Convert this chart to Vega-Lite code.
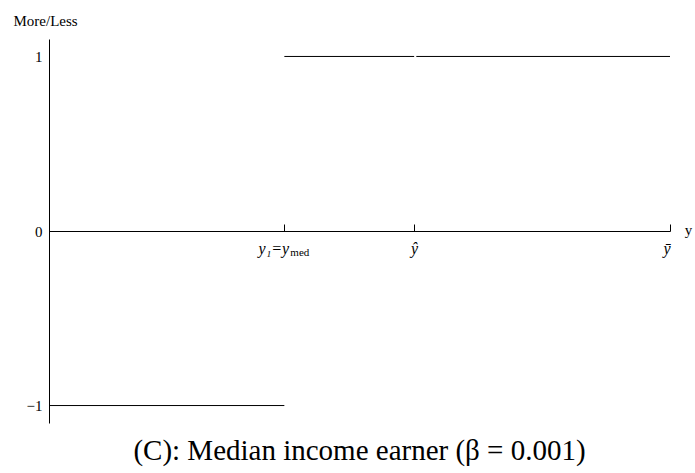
{
  "$schema": "https://vega.github.io/schema/vega-lite/v6.json",
  "width": 621,
  "height": 384,
  "autosize": {"type": "none"},
  "padding": {"left": 49, "top": 39, "right": 25, "bottom": 50},
  "background": "white",
  "config": {
    "view": {"stroke": null},
    "font": "Liberation Serif",
    "axis": {"labelColor": "black", "titleColor": "black", "domainColor": "black", "tickColor": "black", "grid": false}
  },
  "title": {
    "text": "(C): Median income earner (β = 0.001)",
    "orient": "bottom",
    "font": "Liberation Serif",
    "fontSize": 29,
    "fontWeight": "normal",
    "color": "black",
    "offset": 14
  },
  "datasets": {
    "steps": [
      {"from": 0, "to": 37.9, "value": -1},
      {"from": 37.9, "to": 58.8, "value": 1},
      {"from": 59.15, "to": 100, "value": 1}
    ],
    "sub": [
      {"at": 37.9, "value": 0, "text": "med"}
    ]
  },
  "layer": [
    {
      "data": {"name": "steps"},
      "mark": {"type": "rule", "color": "black", "strokeWidth": 1},
      "encoding": {
        "x": {
          "field": "from",
          "type": "quantitative",
          "scale": {"domain": [0, 100], "nice": false, "zero": false},
          "axis": {
            "orient": "bottom",
            "offset": -192,
            "values": [37.9, 58.8, 100],
            "tickSize": -7,
            "labelPadding": 29,
            "labelBaseline": "alphabetic",
            "labelFont": "Liberation Serif",
            "labelFontStyle": "italic",
            "labelFontSize": 16,
            "labelOffset": {"condition": {"test": "datum.value < 50", "value": -11}, "value": 0},
            "labelExpr": "datum.value < 50 ? 'y₁=y' : (datum.value < 80 ? 'ŷ' : 'ȳ')",
            "title": "y",
            "titleFont": "Liberation Serif",
            "titleFontSize": 15,
            "titleFontWeight": "normal",
            "titleAlign": "center",
            "titleBaseline": "alphabetic",
            "titleX": 639,
            "titleY": 3
          }
        },
        "x2": {"field": "to"},
        "y": {
          "field": "value",
          "type": "quantitative",
          "scale": {"domain": [-1.1, 1.1], "nice": false, "zero": false},
          "axis": {
            "values": [-1, 0, 1],
            "ticks": false,
            "labelPadding": 7,
            "labelFont": "Liberation Serif",
            "labelFontSize": 15,
            "labelExpr": "datum.value < 0 ? '−1' : (datum.value > 0 ? '1' : '0')",
            "title": "More/Less",
            "titleFont": "Liberation Serif",
            "titleFontSize": 15,
            "titleFontWeight": "normal",
            "titleAngle": 0,
            "titleAlign": "left",
            "titleBaseline": "alphabetic",
            "titleX": -36,
            "titleY": -14
          }
        }
      }
    },
    {
      "data": {"name": "sub"},
      "mark": {"type": "text", "font": "Liberation Serif", "fontSize": 11, "align": "left", "baseline": "alphabetic", "dx": 6, "dy": 25, "color": "black"},
      "encoding": {
        "x": {"field": "at", "type": "quantitative"},
        "y": {"field": "value", "type": "quantitative"},
        "text": {"field": "text"}
      }
    }
  ]
}
